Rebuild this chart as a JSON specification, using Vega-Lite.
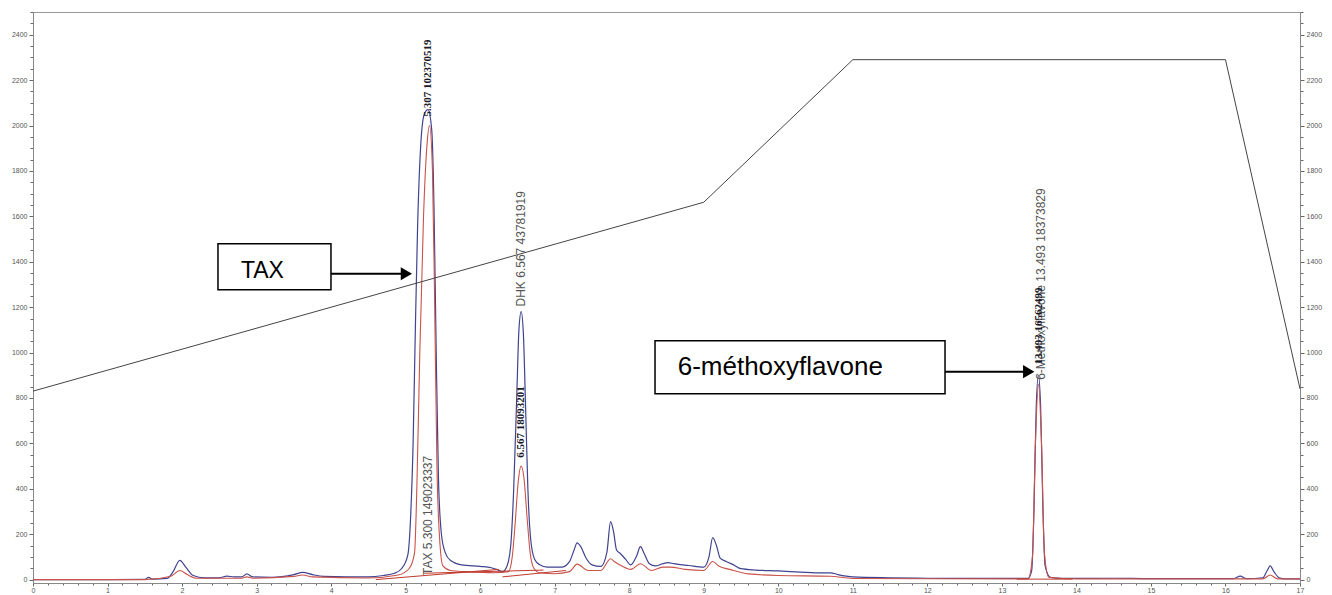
{
  "$schema": "https://vega.github.io/schema/vega-lite/v6.json",
  "width": 1267,
  "height": 571,
  "autosize": {"type": "none"},
  "padding": {"left": 33, "top": 12, "right": 32, "bottom": 12},
  "background": "white",
  "config": {"view": {"stroke": "#999", "strokeWidth": 1}},
  "datasets": {
    "blue": [
      {"t": 0, "v": 0}, {"t": 1.0, "v": 0}, {"t": 1.5, "v": 1}, {"t": 1.55, "v": 10}, {"t": 1.6, "v": 2}, {"t": 1.8, "v": 5}, {"t": 1.88, "v": 35}, {"t": 1.97, "v": 85}, {"t": 2.05, "v": 55}, {"t": 2.15, "v": 18}, {"t": 2.3, "v": 8}, {"t": 2.5, "v": 8}, {"t": 2.6, "v": 15}, {"t": 2.7, "v": 12}, {"t": 2.8, "v": 12}, {"t": 2.87, "v": 25}, {"t": 2.95, "v": 12}, {"t": 3.2, "v": 10}, {"t": 3.5, "v": 22}, {"t": 3.62, "v": 32}, {"t": 3.75, "v": 22}, {"t": 3.9, "v": 14}, {"t": 4.2, "v": 12}, {"t": 4.5, "v": 12}, {"t": 4.7, "v": 18}, {"t": 4.85, "v": 28}, {"t": 4.95, "v": 50}, {"t": 5.03, "v": 110}, {"t": 5.07, "v": 300}, {"t": 5.1, "v": 600}, {"t": 5.13, "v": 1100}, {"t": 5.16, "v": 1550}, {"t": 5.2, "v": 1900}, {"t": 5.25, "v": 2050}, {"t": 5.3, "v": 2070}, {"t": 5.35, "v": 1980}, {"t": 5.38, "v": 1650}, {"t": 5.41, "v": 1000}, {"t": 5.44, "v": 450}, {"t": 5.48, "v": 200}, {"t": 5.53, "v": 120}, {"t": 5.6, "v": 85}, {"t": 5.75, "v": 65}, {"t": 6.0, "v": 58}, {"t": 6.15, "v": 52}, {"t": 6.22, "v": 45}, {"t": 6.3, "v": 35}, {"t": 6.36, "v": 60}, {"t": 6.41, "v": 150}, {"t": 6.45, "v": 400}, {"t": 6.49, "v": 800}, {"t": 6.52, "v": 1100}, {"t": 6.55, "v": 1180}, {"t": 6.58, "v": 1080}, {"t": 6.61, "v": 750}, {"t": 6.64, "v": 400}, {"t": 6.68, "v": 170}, {"t": 6.73, "v": 90}, {"t": 6.8, "v": 65}, {"t": 6.9, "v": 55}, {"t": 7.1, "v": 55}, {"t": 7.2, "v": 80}, {"t": 7.26, "v": 130}, {"t": 7.3, "v": 162}, {"t": 7.35, "v": 145}, {"t": 7.42, "v": 95}, {"t": 7.5, "v": 65}, {"t": 7.62, "v": 58}, {"t": 7.7, "v": 120}, {"t": 7.75, "v": 255}, {"t": 7.79, "v": 210}, {"t": 7.83, "v": 130}, {"t": 7.88, "v": 115}, {"t": 7.95, "v": 90}, {"t": 8.02, "v": 65}, {"t": 8.1, "v": 105}, {"t": 8.15, "v": 145}, {"t": 8.2, "v": 115}, {"t": 8.27, "v": 70}, {"t": 8.35, "v": 60}, {"t": 8.45, "v": 70}, {"t": 8.52, "v": 75}, {"t": 8.6, "v": 70}, {"t": 8.8, "v": 62}, {"t": 9.0, "v": 55}, {"t": 9.07, "v": 100}, {"t": 9.12, "v": 185}, {"t": 9.17, "v": 150}, {"t": 9.22, "v": 95}, {"t": 9.3, "v": 80}, {"t": 9.4, "v": 65}, {"t": 9.5, "v": 48}, {"t": 9.7, "v": 42}, {"t": 10.0, "v": 38}, {"t": 10.3, "v": 33}, {"t": 10.5, "v": 30}, {"t": 10.7, "v": 30}, {"t": 10.8, "v": 22}, {"t": 11.0, "v": 12}, {"t": 11.5, "v": 8}, {"t": 12.0, "v": 6}, {"t": 12.5, "v": 5}, {"t": 13.0, "v": 5}, {"t": 13.35, "v": 5}, {"t": 13.4, "v": 40}, {"t": 13.43, "v": 300}, {"t": 13.46, "v": 750}, {"t": 13.49, "v": 900}, {"t": 13.52, "v": 760}, {"t": 13.55, "v": 320}, {"t": 13.58, "v": 60}, {"t": 13.65, "v": 10}, {"t": 13.8, "v": 5}, {"t": 14.0, "v": 5}, {"t": 14.5, "v": 6}, {"t": 15.0, "v": 4}, {"t": 15.5, "v": 4}, {"t": 16.1, "v": 4}, {"t": 16.2, "v": 15}, {"t": 16.28, "v": 4}, {"t": 16.5, "v": 8}, {"t": 16.56, "v": 40}, {"t": 16.6, "v": 60}, {"t": 16.65, "v": 35}, {"t": 16.72, "v": 8}, {"t": 16.8, "v": 3}, {"t": 17.0, "v": 3}
    ],
    "red": [
      {"t": 0, "v": 0}, {"t": 1.5, "v": 0}, {"t": 1.85, "v": 15}, {"t": 1.97, "v": 40}, {"t": 2.07, "v": 22}, {"t": 2.2, "v": 6}, {"t": 2.8, "v": 6}, {"t": 2.87, "v": 12}, {"t": 2.95, "v": 6}, {"t": 3.5, "v": 14}, {"t": 3.62, "v": 20}, {"t": 3.75, "v": 12}, {"t": 4.5, "v": 7}, {"t": 4.9, "v": 20}, {"t": 5.05, "v": 50}, {"t": 5.12, "v": 120}, {"t": 5.15, "v": 400}, {"t": 5.19, "v": 1000}, {"t": 5.24, "v": 1600}, {"t": 5.29, "v": 1930}, {"t": 5.32, "v": 2000}, {"t": 5.36, "v": 1800}, {"t": 5.39, "v": 1200}, {"t": 5.42, "v": 500}, {"t": 5.46, "v": 160}, {"t": 5.5, "v": 60}, {"t": 5.6, "v": 40}, {"t": 5.8, "v": 35}, {"t": 6.2, "v": 30}, {"t": 6.38, "v": 35}, {"t": 6.43, "v": 100}, {"t": 6.47, "v": 250}, {"t": 6.51, "v": 430}, {"t": 6.55, "v": 500}, {"t": 6.59, "v": 440}, {"t": 6.63, "v": 270}, {"t": 6.67, "v": 120}, {"t": 6.72, "v": 50}, {"t": 6.8, "v": 30}, {"t": 7.0, "v": 26}, {"t": 7.2, "v": 35}, {"t": 7.3, "v": 68}, {"t": 7.45, "v": 40}, {"t": 7.62, "v": 40}, {"t": 7.75, "v": 92}, {"t": 7.8, "v": 80}, {"t": 7.9, "v": 60}, {"t": 8.02, "v": 45}, {"t": 8.15, "v": 70}, {"t": 8.3, "v": 40}, {"t": 8.45, "v": 55}, {"t": 8.55, "v": 55}, {"t": 8.75, "v": 45}, {"t": 9.0, "v": 40}, {"t": 9.12, "v": 80}, {"t": 9.2, "v": 60}, {"t": 9.35, "v": 45}, {"t": 9.6, "v": 25}, {"t": 10.0, "v": 18}, {"t": 10.7, "v": 15}, {"t": 11.0, "v": 5}, {"t": 13.35, "v": 3}, {"t": 13.41, "v": 100}, {"t": 13.45, "v": 600}, {"t": 13.49, "v": 860}, {"t": 13.53, "v": 620}, {"t": 13.57, "v": 120}, {"t": 13.63, "v": 10}, {"t": 14.0, "v": 3}, {"t": 16.5, "v": 3}, {"t": 16.6, "v": 20}, {"t": 16.7, "v": 3}, {"t": 17.0, "v": 3}
    ],
    "baselines": [
      {"seg": "a", "t": 4.6, "v": 0}, {"seg": "a", "t": 6.25, "v": 45},
      {"seg": "b", "t": 5.25, "v": 28}, {"seg": "b", "t": 6.85, "v": 42},
      {"seg": "c", "t": 6.3, "v": 12}, {"seg": "c", "t": 7.15, "v": 40},
      {"seg": "d", "t": 13.2, "v": 2}, {"seg": "d", "t": 13.95, "v": 2}
    ],
    "gradient": [
      {"t": 0, "v": 830}, {"t": 9.0, "v": 1662}, {"t": 11.0, "v": 2290}, {"t": 16.0, "v": 2290}, {"t": 17.0, "v": 840}
    ],
    "boxes": [
      {"t": 2.482, "t2": 3.998, "v": 1479, "v2": 1277},
      {"t": 8.346, "t2": 12.237, "v": 1052, "v2": 819}
    ],
    "boxtext": [
      {"t": 2.79, "v": 1360, "text": "TAX"},
      {"t": 8.65, "v": 936, "text": "6-méthoxyflavone"}
    ],
    "arrows": [
      {"t": 3.998, "t2": 5.0, "v": 1347},
      {"t": 12.237, "t2": 13.35, "v": 916}
    ],
    "heads": [
      {"t": 5.01, "v": 1347},
      {"t": 13.36, "v": 916}
    ],
    "graylabels": [
      {"t": 5.3, "v": 20, "text": "TAX  5.300  149023337"},
      {"t": 6.55, "v": 1203, "text": "DHK  6.567  43781919"},
      {"t": 13.53, "v": 880, "text": "6-Methoxyflavone  13.493  18373829"}
    ],
    "boldlabels": [
      {"t": 5.3, "v": 2040, "text": "5.307  102370519"},
      {"t": 6.55, "v": 537, "text": "6.567  18093201"},
      {"t": 13.5, "v": 947, "text": "13.493  16562499"}
    ]
  },
  "encoding": {
    "x": {"field": "t", "type": "quantitative", "scale": {"domain": [0, 17], "nice": false, "zero": false}, "axis": null},
    "y": {"field": "v", "type": "quantitative", "scale": {"domain": [-15, 2500], "nice": false, "zero": false}, "axis": null}
  },
  "layer": [
    {
      "data": {"name": "blue"},
      "mark": {"type": "line", "color": "#40438f", "strokeWidth": 1.2, "interpolate": "monotone"},
      "encoding": {
        "x": {"field": "t", "type": "quantitative", "scale": {"domain": [0, 17], "nice": false, "zero": false},
          "axis": {"orient": "bottom", "tickCount": 85, "title": null, "grid": false, "labelOverlap": false, "labelFlush": false,
            "labelExpr": "abs(datum.value - round(datum.value)) < 0.01 ? format(datum.value, 'd') : ''",
            "labelFont": "Liberation Sans", "labelFontSize": 7, "labelColor": "#555", "labelPadding": 0,
            "domainColor": "#888", "tickColor": "#666",
            "tickSize": {"condition": {"test": "abs(datum.value - round(datum.value)) < 0.01", "value": 3}, "value": 2}}},
        "y": {"field": "v", "type": "quantitative", "scale": {"domain": [-15, 2500], "nice": false, "zero": false},
          "axis": {"orient": "left", "tickCount": 50, "title": null, "grid": false, "labelOverlap": false,
            "labelExpr": "datum.value % 200 === 0 ? format(datum.value, 'd') : ''",
            "labelFont": "Liberation Sans", "labelFontSize": 7, "labelColor": "#555", "labelPadding": 2,
            "domainColor": "#888", "tickColor": "#666",
            "tickSize": {"condition": {"test": "datum.value % 200 === 0", "value": 4}, "value": 3}}}
      }
    },
    {
      "data": {"name": "red"},
      "mark": {"type": "line", "color": "#c9524a", "strokeWidth": 1.1, "interpolate": "monotone"},
      "encoding": {}
    },
    {
      "data": {"name": "baselines"},
      "mark": {"type": "line", "color": "#c0392b", "strokeWidth": 1},
      "encoding": {"detail": {"field": "seg"}}
    },
    {
      "data": {"name": "gradient"},
      "mark": {"type": "line", "color": "#444", "strokeWidth": 1},
      "encoding": {
        "y": {"field": "v", "type": "quantitative", "scale": {"domain": [-15, 2500], "nice": false, "zero": false},
          "axis": {"orient": "right", "tickCount": 50, "title": null, "grid": false, "labelOverlap": false,
            "labelExpr": "datum.value % 200 === 0 ? format(datum.value, 'd') : ''",
            "labelFont": "Liberation Sans", "labelFontSize": 7, "labelColor": "#555", "labelPadding": 2,
            "domainColor": "#888", "tickColor": "#666",
            "tickSize": {"condition": {"test": "datum.value % 200 === 0", "value": 4}, "value": 3}}}
      }
    },
    {
      "data": {"name": "graylabels"},
      "mark": {"type": "text", "angle": 270, "align": "left", "baseline": "middle", "font": "Liberation Sans", "fontSize": 12, "color": "#555"},
      "encoding": {"text": {"field": "text"}}
    },
    {
      "data": {"name": "boldlabels"},
      "mark": {"type": "text", "angle": 270, "align": "left", "baseline": "middle", "font": "Liberation Serif", "fontWeight": "bold", "fontSize": 11, "color": "#1a1a2a"},
      "encoding": {"text": {"field": "text"}}
    },
    {
      "data": {"name": "boxes"},
      "mark": {"type": "rect", "fill": "white", "stroke": "black", "strokeWidth": 1.5},
      "encoding": {"x2": {"field": "t2"}, "y2": {"field": "v2"}}
    },
    {
      "data": {"name": "boxtext"},
      "transform": [{"filter": "datum.text === 'TAX'"}],
      "mark": {"type": "text", "align": "left", "baseline": "middle", "font": "Liberation Sans", "fontSize": 23, "color": "black"},
      "encoding": {"text": {"field": "text"}}
    },
    {
      "data": {"name": "boxtext"},
      "transform": [{"filter": "datum.text !== 'TAX'"}],
      "mark": {"type": "text", "align": "left", "baseline": "middle", "font": "Liberation Sans", "fontSize": 26, "color": "black"},
      "encoding": {"text": {"field": "text"}}
    },
    {
      "data": {"name": "arrows"},
      "mark": {"type": "rule", "color": "black", "strokeWidth": 2},
      "encoding": {"x2": {"field": "t2"}}
    },
    {
      "data": {"name": "heads"},
      "mark": {"type": "point", "shape": "triangle-right", "filled": true, "color": "black", "size": 170, "opacity": 1},
      "encoding": {}
    }
  ],
  "resolve": {"axis": {"x": "independent", "y": "independent"}}
}
